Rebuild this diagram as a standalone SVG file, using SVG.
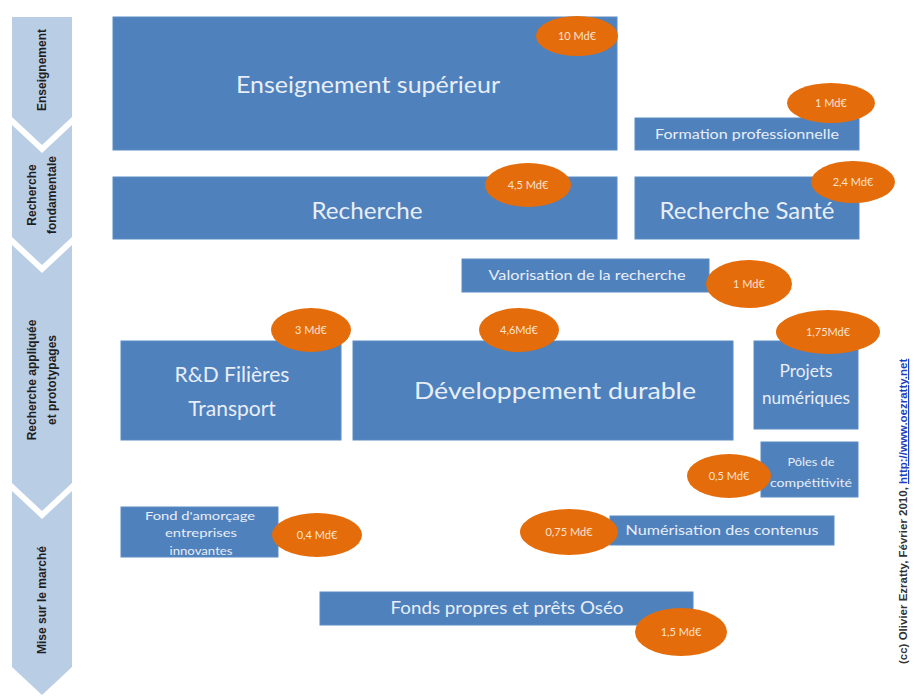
<svg xmlns="http://www.w3.org/2000/svg" width="920" height="697" viewBox="0 0 920 697">
<style>
.chev{fill:#b9cde5}
.ct{font-family:"Liberation Sans",Arial,sans-serif;font-weight:bold;font-size:12px;fill:#1f1f1f;text-anchor:middle}
.box{fill:#4f81bd;stroke:#5b8cc4;stroke-width:1}
.bt{font-family:Lato,"Open Sans",sans-serif;fill:#e8eef7;text-anchor:middle}
.ov{fill:#e46c0a}
.ot{font-family:Lato,"Open Sans",sans-serif;font-size:11px;fill:#fbe3cf;text-anchor:middle}
.cr{font-family:"Liberation Sans",Arial,sans-serif;font-size:11.5px;font-weight:bold;fill:#333}
</style>
<rect width="920" height="697" fill="#ffffff"/>
<g id="phases">
<g id="phase-enseignement">
<path class="chev" d="M12,17 L72,17 L72,117 L42,145 L12,117 Z"/>
<text class="ct" transform="translate(46,70) rotate(-90)">Enseignement</text>
</g>
<g id="phase-fondamentale">
<path class="chev" d="M12,125 L42,153 L72,125 L72,237 L42,265 L12,237 Z"/>
<text class="ct" transform="translate(36,195) rotate(-90)">Recherche</text>
<text class="ct" transform="translate(56,195) rotate(-90)">fondamentale</text>
</g>
<g id="phase-appliquee">
<path class="chev" d="M12,245 L42,273 L72,245 L72,483 L42,511 L12,483 Z"/>
<text class="ct" transform="translate(36,380) rotate(-90)">Recherche appliquée</text>
<text class="ct" transform="translate(56,380) rotate(-90)">et prototypages</text>
</g>
<g id="phase-marche">
<path class="chev" d="M12,491 L42,519 L72,491 L72,667 L42,695 L12,667 Z"/>
<text class="ct" transform="translate(46,600) rotate(-90)" font-size="12.5">Mise sur le marché</text>
</g>
</g>
<g id="connectors"></g>
<g id="enseignement-superieur">
<rect class="box" x="113" y="17" width="504" height="133"/>
<text class="bt" x="368" y="93" font-size="23" textLength="264" lengthAdjust="spacingAndGlyphs">Enseignement supérieur</text>
<ellipse class="ov" cx="577" cy="36" rx="41" ry="20"/>
<text class="ot" x="577" y="40">10 Md€</text>
</g>
<g id="formation-professionnelle">
<rect class="box" x="635" y="118" width="224" height="32"/>
<text class="bt" x="747" y="139" font-size="13" textLength="184" lengthAdjust="spacingAndGlyphs">Formation professionnelle</text>
<ellipse class="ov" cx="831" cy="103" rx="44" ry="20"/>
<text class="ot" x="831" y="107">1 Md€</text>
</g>
<g id="recherche">
<rect class="box" x="113" y="177" width="504" height="62"/>
<text class="bt" x="367" y="219" font-size="23" textLength="111" lengthAdjust="spacingAndGlyphs">Recherche</text>
<ellipse class="ov" cx="528" cy="185" rx="43" ry="22"/>
<text class="ot" x="528" y="189">4,5 Md€</text>
</g>
<g id="recherche-sante">
<rect class="box" x="635" y="177" width="224" height="62"/>
<text class="bt" x="747" y="219" font-size="23" textLength="175" lengthAdjust="spacingAndGlyphs">Recherche Santé</text>
<ellipse class="ov" cx="853" cy="182" rx="42" ry="21"/>
<text class="ot" x="853" y="186">2,4 Md€</text>
</g>
<g id="valorisation">
<rect class="box" x="462" y="259" width="247" height="33"/>
<text class="bt" x="587" y="280" font-size="13" textLength="197" lengthAdjust="spacingAndGlyphs">Valorisation de la recherche</text>
<ellipse class="ov" cx="749" cy="284" rx="43" ry="24"/>
<text class="ot" x="749" y="288">1 Md€</text>
</g>
<g id="rd-filieres-transport">
<rect class="box" x="121" y="341" width="220" height="99"/>
<text class="bt" x="232" y="382" font-size="21">R&amp;D Filières</text>
<text class="bt" x="232" y="416" font-size="21">Transport</text>
<ellipse class="ov" cx="311" cy="330" rx="40" ry="22"/>
<text class="ot" x="311" y="334">3 Md€</text>
</g>
<g id="developpement-durable">
<rect class="box" x="353" y="341" width="380" height="99"/>
<text class="bt" x="555" y="399" font-size="24" textLength="282" lengthAdjust="spacingAndGlyphs">Développement durable</text>
<ellipse class="ov" cx="519" cy="330" rx="40" ry="22"/>
<text class="ot" x="519" y="334">4,6Md€</text>
</g>
<g id="projets-numeriques">
<rect class="box" x="754" y="341" width="104" height="88"/>
<text class="bt" x="806" y="377" font-size="17" textLength="53" lengthAdjust="spacingAndGlyphs">Projets</text>
<text class="bt" x="806" y="404" font-size="17" textLength="88" lengthAdjust="spacingAndGlyphs">numériques</text>
<ellipse class="ov" cx="828" cy="332" rx="52" ry="22"/>
<text class="ot" x="828" y="336">1,75Md€</text>
</g>
<g id="poles-competitivite">
<rect class="box" x="761" y="442" width="97" height="55"/>
<text class="bt" x="811" y="466" font-size="12" textLength="47" lengthAdjust="spacingAndGlyphs">Pôles de</text>
<text class="bt" x="811" y="487" font-size="12" textLength="82" lengthAdjust="spacingAndGlyphs">compétitivité</text>
<ellipse class="ov" cx="729" cy="476" rx="42" ry="22"/>
<text class="ot" x="729" y="480">0,5 Md€</text>
</g>
<g id="numerisation-contenus">
<rect class="box" x="610" y="516" width="224" height="29"/>
<text class="bt" x="722" y="535" font-size="13" textLength="193" lengthAdjust="spacingAndGlyphs">Numérisation des contenus</text>
<ellipse class="ov" cx="569" cy="532" rx="49" ry="23"/>
<text class="ot" x="569" y="536">0,75 Md€</text>
</g>
<g id="fond-amorcage">
<rect class="box" x="121" y="507" width="157" height="50"/>
<text class="bt" x="200" y="520" font-size="12" textLength="110" lengthAdjust="spacingAndGlyphs">Fond d'amorçage</text>
<text class="bt" x="201" y="537" font-size="12" textLength="72" lengthAdjust="spacingAndGlyphs">entreprises</text>
<text class="bt" x="201" y="555" font-size="12" textLength="63" lengthAdjust="spacingAndGlyphs">innovantes</text>
<ellipse class="ov" cx="317" cy="535" rx="45" ry="22"/>
<text class="ot" x="317" y="539">0,4 Md€</text>
</g>
<g id="fonds-propres-oseo">
<rect class="box" x="320" y="592" width="373" height="33"/>
<text class="bt" x="507" y="614" font-size="17" textLength="233" lengthAdjust="spacingAndGlyphs">Fonds propres et prêts Oséo</text>
<ellipse class="ov" cx="681" cy="632" rx="46" ry="24"/>
<text class="ot" x="681" y="636">1,5 Md€</text>
</g>
<g id="credit">
<text class="cr" transform="translate(907,664) rotate(-90)">(cc) Olivier Ezratty, Février 2010, <tspan fill="#1f3fbf" text-decoration="underline">http://www.oezratty.net</tspan></text>
</g>
</svg>
